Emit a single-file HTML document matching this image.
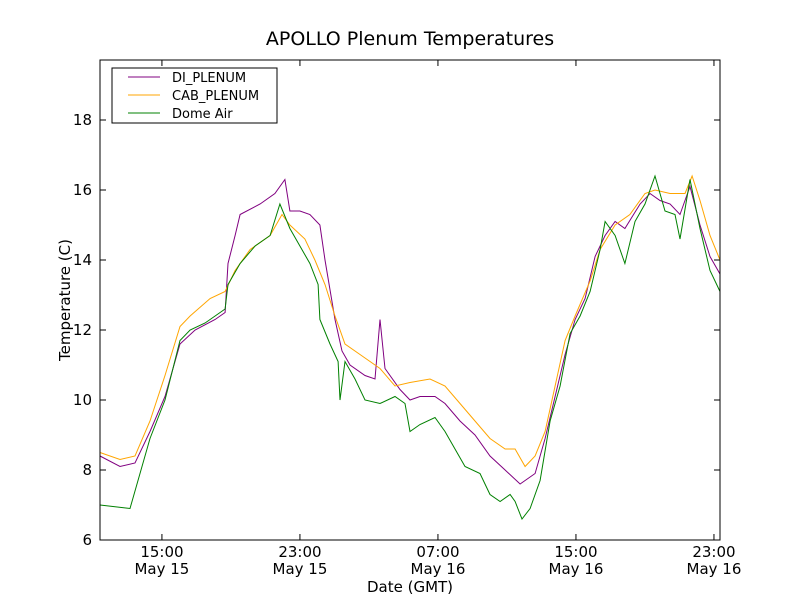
<!DOCTYPE html>
<html><head><meta charset="utf-8"><style>
body{margin:0;background:#fff;}
svg{display:block;font-family:"DejaVu Sans","Liberation Sans",sans-serif;}
</style></head><body>
<svg id="c" width="800" height="600">
<rect width="800" height="600" fill="#fff"/>
<text x="410" y="45" text-anchor="middle" font-size="19">APOLLO Plenum Temperatures</text>
<g id="plot"></g>
<rect x="100" y="60" width="620" height="480" fill="none" stroke="#000"/>
<text x="410" y="592" text-anchor="middle" font-size="15">Date (GMT)</text>
<text transform="translate(70,300) rotate(-90)" text-anchor="middle" font-size="15">Temperature (C)</text>
<g>
<rect x="112" y="68" width="165" height="55" fill="#fff" stroke="#000"/>
<line x1="128" y1="77" x2="160" y2="77" stroke="purple"/>
<text x="172" y="82" font-size="13">DI_PLENUM</text>
<line x1="128" y1="95" x2="160" y2="95" stroke="orange"/>
<text x="172" y="100" font-size="13">CAB_PLENUM</text>
<line x1="128" y1="113" x2="160" y2="113" stroke="green"/>
<text x="172" y="118" font-size="13">Dome Air</text>
</g>
</svg>
<script>
const yTicks=[6,8,10,12,14,16,18];
const xTicks=[15,23,31,39,47];
const xTickTime=["15:00","23:00","07:00","15:00","23:00"];
const xTickDate=["May 15","May 15","May 16","May 16","May 16"];
const domeT=[11.41,13.15,13.44,14.31,15.18,16.05,16.63,17.50,18.37,18.66,18.83,19.53,20.40,21.27,21.84,22.42,23.0,23.58,24.05,24.16,24.74,25.21,25.32,25.61,26.19,26.77,27.64,28.51,29.09,29.38,29.96,30.83,31.41,31.99,32.57,33.44,34.02,34.60,35.18,35.47,35.87,36.34,36.92,37.50,38.08,38.66,39.24,39.82,40.40,40.69,41.27,41.84,42.42,43.0,43.58,44.16,44.74,45.03,45.61,46.19,46.77,47.35];
const domeV=[7.0,6.9,7.4,8.9,10.0,11.7,12.0,12.2,12.5,12.6,13.3,13.9,14.4,14.7,15.6,14.9,14.4,13.9,13.3,12.3,11.6,11.1,10.0,11.1,10.6,10.0,9.9,10.1,9.9,9.1,9.3,9.5,9.1,8.6,8.1,7.9,7.3,7.1,7.3,7.1,6.6,6.9,7.7,9.4,10.4,11.9,12.4,13.1,14.3,15.1,14.7,13.9,15.1,15.6,16.4,15.4,15.3,14.6,16.3,14.9,13.7,13.1];
const diT=[11.41,12.57,13.44,14.31,15.18,16.05,16.92,18.08,18.66,18.83,19.24,19.53,20.69,21.55,22.13,22.42,23.0,23.58,24.16,24.45,25.03,25.44,25.90,26.77,27.35,27.64,27.93,28.80,29.38,29.96,30.83,31.41,32.28,33.15,34.02,34.89,35.76,36.63,37.21,37.79,38.37,38.95,39.53,40.11,40.69,41.27,41.84,42.72,43.29,43.87,44.46,45.03,45.61,46.19,46.77,47.35];
const diV=[8.4,8.1,8.2,9.1,10.1,11.6,12.0,12.3,12.5,13.9,14.7,15.3,15.6,15.9,16.3,15.4,15.4,15.3,15.0,14.0,12.3,11.4,11.0,10.7,10.6,12.3,10.9,10.3,10.0,10.1,10.1,9.9,9.4,9.0,8.4,8.0,7.6,7.9,8.9,10.1,11.3,12.3,12.9,14.1,14.7,15.1,14.9,15.6,15.9,15.7,15.6,15.3,16.1,15.0,14.1,13.6];
const cabT=[11.41,12.57,13.44,14.31,15.18,16.05,16.63,17.79,18.66,19.24,20.11,21.27,21.96,22.42,23.29,23.87,24.45,25.03,25.61,26.48,27.64,28.51,29.38,30.54,31.41,32.28,33.15,34.02,34.89,35.47,36.05,36.63,37.21,37.79,38.37,38.95,39.82,40.40,41.27,42.13,43.0,43.58,44.46,45.32,45.73,46.19,46.77,47.35];
const cabV=[8.5,8.3,8.4,9.4,10.7,12.1,12.4,12.9,13.1,13.7,14.3,14.7,15.3,15.0,14.6,14.0,13.3,12.4,11.6,11.3,10.9,10.4,10.5,10.6,10.4,9.9,9.4,8.9,8.6,8.6,8.1,8.4,9.1,10.4,11.7,12.4,13.4,14.3,15.0,15.3,15.9,16.0,15.9,15.9,16.4,15.7,14.7,14.0];
const X0=11.41,X1=47.35,Y0=6,Y1=19.714;
const sx=h=>100+(h-X0)/(X1-X0)*620;
const sy=v=>540-(v-Y0)/(Y1-Y0)*480;
const NS="http://www.w3.org/2000/svg";
const plot=document.getElementById('plot');
function mk(tag,attrs){const e=document.createElementNS(NS,tag);for(const k in attrs)e.setAttribute(k,attrs[k]);plot.appendChild(e);return e;}
yTicks.forEach(v=>{
  const y=sy(v);
  const t1=mk('line',{x1:100,x2:106,y1:y,y2:y,stroke:'#000'});
  
  
  const t2=mk('line',{x1:714,x2:720,y1:y,y2:y,stroke:'#000'});
  
  
  const tx=mk('text',{x:92,y:y+5,'text-anchor':'end','font-size':15});
  tx.textContent=v;
  
  
});
xTicks.forEach((h,i)=>{
  const x=sx(h);
  const t1=mk('line',{x1:x,x2:x,y1:540,y2:534,stroke:'#000'});
  
  
  const t2=mk('line',{x1:x,x2:x,y1:60,y2:66,stroke:'#000'});
  
  
  const a=mk('text',{x:x,y:557,'text-anchor':'middle','font-size':15});
  a.textContent=xTickTime[i];
  
  
  const b=mk('text',{x:x,y:574,'text-anchor':'middle','font-size':15});
  b.textContent=xTickDate[i];
  
  
});
function line(T,V,color,name){
  const d=T.map((t,i)=>(i?'L':'M')+sx(t).toFixed(1)+','+sy(V[i]).toFixed(1)).join('');
  const p=mk('path',{d:d,fill:'none',stroke:color,'stroke-width':1});
  
  
}
line(diT,diV,'purple','di-plenum-line');
line(cabT,cabV,'orange','cab-plenum-line');
line(domeT,domeV,'green','dome-air-line');
</script>
</body></html>
